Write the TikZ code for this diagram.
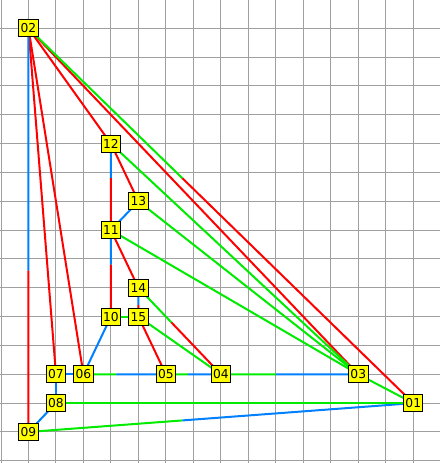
\documentclass[tikz,border=0pt]{standalone}
\usepackage{fontspec}
\setmainfont{DejaVu Sans}
\usetikzlibrary{calc,backgrounds}
\definecolor{gridgray}{RGB}{160,160,160}
\definecolor{ered}{RGB}{255,0,0}
\definecolor{eblue}{RGB}{0,128,255}
\definecolor{egreen}{RGB}{0,235,0}
\definecolor{nodeyellow}{RGB}{255,255,0}
\tikzset{
  vbox/.style={draw=black, line width=0.75pt, fill=nodeyellow, inner sep=0pt,
    minimum width=14.6pt, minimum height=12.6pt, font=\fontsize{9.2}{10}\selectfont},
  eline/.style={line width=1.5pt},
  gline/.style={draw=gridgray, line width=0.75pt}
}
\newcommand{\fulledge}[3]{\draw[eline,#3] (#1.center) -- (#2.center);}
\newcommand{\splitedge}[5]{%
  \draw[eline,#4] (#1.center) -- ($(#1.center)!#3!(#2.center)$);
  \draw[eline,#5] ($(#1.center)!#3!(#2.center)$) -- (#2.center);}
\begin{document}
\begin{tikzpicture}[x=20.61pt,y=-21.62pt]
\useasboundingbox (-0.0364,0.0173) rectangle (15.975,16.077);
% nodes
\node[vbox] (n01) at (15,14) {01};
\node[vbox] (n02) at (1,1) {02};
\node[vbox] (n03) at (13,13) {03};
\node[vbox] (n04) at (8,13) {04};
\node[vbox] (n05) at (6,13) {05};
\node[vbox] (n06) at (3,13) {06};
\node[vbox] (n07) at (2,13) {07};
\node[vbox] (n08) at (2,14) {08};
\node[vbox] (n09) at (1,15) {09};
\node[vbox] (n10) at (4,11) {10};
\node[vbox] (n11) at (4,8) {11};
\node[vbox] (n12) at (4,5) {12};
\node[vbox] (n13) at (5,7) {13};
\node[vbox] (n14) at (5,10) {14};
\node[vbox] (n15) at (5,11) {15};
\begin{pgfonlayer}{background}
% grid
\foreach \i in {0,...,15} {\draw[gline] (\i,0.0173) -- (\i,16.077);}
\foreach \j in {1,...,16} {\draw[gline] (-0.0364,\j) -- (15.975,\j);}
% red edges
\fulledge{n02}{n07}{ered}
\fulledge{n02}{n06}{ered}
\fulledge{n02}{n12}{ered}
\fulledge{n02}{n03}{ered}
\fulledge{n12}{n13}{ered}
\fulledge{n11}{n14}{ered}
\fulledge{n15}{n05}{ered}
% blue edges
\fulledge{n13}{n11}{eblue}
\fulledge{n06}{n10}{eblue}
\fulledge{n07}{n06}{eblue}
\fulledge{n07}{n08}{eblue}
\fulledge{n08}{n09}{eblue}
% split edges
\splitedge{n02}{n09}{0.6}{eblue}{ered}
\splitedge{n02}{n01}{0.4}{egreen}{ered}
\splitedge{n12}{n11}{0.4}{eblue}{ered}
\splitedge{n11}{n10}{0.4}{eblue}{ered}
\splitedge{n14}{n15}{0.6}{eblue}{ered}
\splitedge{n06}{n05}{0.4}{egreen}{eblue}
\splitedge{n05}{n04}{0.4}{egreen}{eblue}
\splitedge{n04}{n03}{0.4}{egreen}{eblue}
\splitedge{n09}{n01}{0.4}{egreen}{eblue}
\splitedge{n14}{n04}{0.4}{egreen}{ered}
% green edges
\fulledge{n12}{n03}{egreen}
\fulledge{n13}{n03}{egreen}
\fulledge{n11}{n03}{egreen}
\fulledge{n03}{n01}{egreen}
\fulledge{n08}{n01}{egreen}
\fulledge{n10}{n15}{egreen}
\fulledge{n15}{n04}{egreen}
\end{pgfonlayer}
\end{tikzpicture}
\end{document}
